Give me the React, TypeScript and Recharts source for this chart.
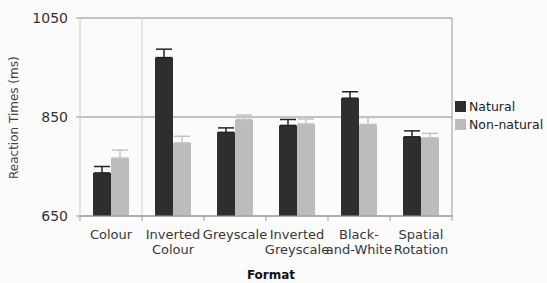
import { BarChart, Bar, XAxis, YAxis, CartesianGrid, ErrorBar } from 'recharts'

const formats = ['Colour', 'Inverted\nColour', 'Greyscale', 'Inverted\nGreyscale', 'Black-\nand-White', 'Spatial\nRotation']
const natural = [737, 970, 819, 833, 888, 810]
const naturalErr = [13, 17, 9, 12, 13, 12]
const nonNatural = [767, 798, 845, 836, 835, 808]
const nonNaturalErr = [16, 13, 9, 10, 14, 9]
const yTicks = [650, 850, 1050]
const seriesNames = ['Natural', 'Non-natural']
const seriesColors = ['#2e2e2e', '#bcbcbc']

const data = formats.map((f, i) => ({
  format: f,
  Natural: natural[i],
  natErr: [0, naturalErr[i]],
  'Non-natural': nonNatural[i],
  nonErr: [0, nonNaturalErr[i]],
}))

const font = '"DejaVu Sans", sans-serif'

function FormatTick(props: any) {
  const { x, y, payload, index } = props
  const half = payload.offset ?? 31
  const lines = String(payload.value).split('\n')
  return (
    <g>
      <line x1={x - half} x2={x - half} y1={y - 8} y2={y - 3} stroke="#999" />
      {index === formats.length - 1 && (
        <line x1={x + half} x2={x + half} y1={y - 8} y2={y - 3} stroke="#999" />
      )}
      <text x={x} y={y + 15} textAnchor="middle" fontSize={13} fill="#383838" fontFamily={font}>
        {lines.map((l, i) => (
          <tspan key={i} x={x} dy={i === 0 ? 0 : 15}>{l}</tspan>
        ))}
      </text>
    </g>
  )
}

export default function App() {
  return (
    <div style={{ position: 'absolute', left: 0, top: 0, width: 547, height: 283, background: '#fbfbfb', overflow: 'hidden' }}>
      <BarChart
        width={547}
        height={283}
        data={data}
        margin={{ top: 18, right: 95, bottom: 22, left: 35 }}
        barSize={18}
        barGap={0}
      >
        <CartesianGrid vertical={false} stroke="#8a8a8a" />
        <CartesianGrid
          horizontal={false}
          stroke="#d0d0d0"
          verticalCoordinatesGenerator={({ offset }: any) => [offset.left + offset.width / formats.length]}
        />
        <CartesianGrid
          horizontal={false}
          stroke="#999"
          verticalCoordinatesGenerator={({ offset }: any) => [offset.left + offset.width]}
        />
        <XAxis
          dataKey="format"
          height={45}
          interval={0}
          tickLine={false}
          axisLine={{ stroke: '#999' }}
          tick={<FormatTick />}
          label={{ value: 'Format', position: 'insideBottom', offset: -18, fontSize: 12, fontWeight: 'bold', fill: '#111', fontFamily: font, dx: 5 }}
        />
        <YAxis
          domain={[650, 1050]}
          ticks={yTicks}
          width={45}
          tickSize={4}
          tickMargin={8}
          tickLine={{ stroke: '#999' }}
          axisLine={{ stroke: '#ccc' }}
          tick={{ fontSize: 14, fill: '#333', fontFamily: font }}
          label={{ value: 'Reaction Times (ms)', angle: -90, position: 'insideLeft', dx: -26, dy: 62, fontSize: 12, fill: '#444', fontFamily: font }}
          allowDataOverflow
        />
        <Bar dataKey="Natural" fill={seriesColors[0]} isAnimationActive={false}>
          <ErrorBar dataKey="natErr" direction="y" width={8} stroke="#222" strokeWidth={1.5} />
        </Bar>
        <Bar dataKey="Non-natural" fill={seriesColors[1]} isAnimationActive={false}>
          <ErrorBar dataKey="nonErr" direction="y" width={8} stroke="#c4c4c4" strokeWidth={1.5} />
        </Bar>
      </BarChart>
      <div style={{ position: 'absolute', left: 455, top: 97, fontFamily: font, fontSize: 12.5, color: '#222', whiteSpace: 'nowrap' }}>
        {seriesNames.map((n, i) => (
          <div key={n} style={{ display: 'flex', alignItems: 'center', height: 18 }}>
            <span style={{ width: 11, height: 11, background: seriesColors[i], display: 'inline-block', marginRight: 3 }} />
            {n}
          </div>
        ))}
      </div>
    </div>
  )
}
